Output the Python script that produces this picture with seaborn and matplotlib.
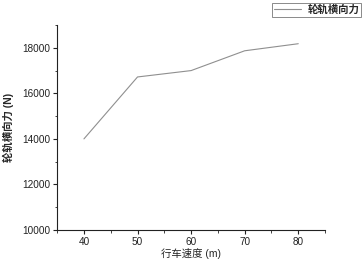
import matplotlib
matplotlib.use('Agg')
import matplotlib.pyplot as plt
import seaborn as sns
from matplotlib.ticker import MultipleLocator

# data
speed = [40, 50, 60, 70, 80]
force = [14000, 16720, 17000, 17870, 18180]
series_name = '轮轨横向力'

sns.set_style('ticks')
plt.rcParams['font.family'] = ['Liberation Sans', 'Noto Sans CJK SC', 'DejaVu Sans']
plt.rcParams['axes.unicode_minus'] = False

fig = plt.figure(figsize=(3.64, 2.61), dpi=100)
ax = fig.add_axes([0.157, 0.119, 0.736, 0.785])

sns.lineplot(x=speed, y=force, ax=ax, color='#8f8f8f', linewidth=0.8, label=series_name)

ax.set_xlim(35, 85)
ax.set_ylim(10000, 19000)
ax.xaxis.set_major_locator(MultipleLocator(10))
ax.xaxis.set_minor_locator(MultipleLocator(5))
ax.yaxis.set_major_locator(MultipleLocator(2000))
ax.yaxis.set_minor_locator(MultipleLocator(1000))
ax.tick_params(which='major', length=3, width=0.8, labelsize=7.2, pad=2, colors='#222222')
ax.tick_params(which='minor', length=1.8, width=0.6, colors='#222222')
for s in ['top', 'right']:
    ax.spines[s].set_visible(False)
for s in ['left', 'bottom']:
    ax.spines[s].set_linewidth(0.8)
    ax.spines[s].set_color('#222222')

ax.set_xlabel('行车速度 (m)', fontsize=7.5, fontweight='medium', labelpad=1)
ax.set_ylabel('轮轨横向力 (N)', fontsize=7.5, fontweight='bold', labelpad=6)

leg = ax.legend(loc='upper right', bbox_to_anchor=(0.993, 0.99), bbox_transform=fig.transFigure,
                fontsize=7.5, frameon=True, fancybox=False, handlelength=2.6,
                borderpad=0.2, handletextpad=0.6, borderaxespad=0,
                prop={'size': 7.5, 'weight': 'bold'})
leg.get_frame().set_edgecolor('#555555')
leg.get_frame().set_linewidth(0.6)

fig.savefig('out.png', dpi=100)
plt.close(fig)
